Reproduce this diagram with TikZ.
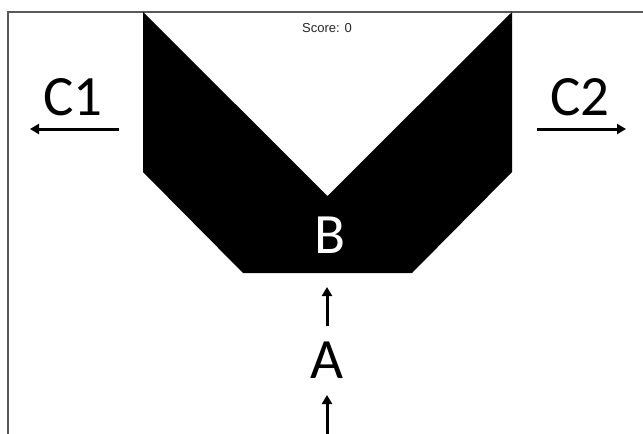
\documentclass[tikz,border=0pt]{standalone}
\usepackage{fontspec}
\setmainfont{Carlito}
\newfontfamily\scorefont{Liberation Sans}
\usetikzlibrary{arrows.meta}
\begin{document}
\begin{tikzpicture}[x=1pt,y=-1pt,
  frameline/.style={draw=black!65, line width=1.5pt},
  bigtext/.style={font=\fontsize{57}{60}\selectfont, inner sep=0pt, anchor=base},
  arr/.style={line width=3pt, -{Triangle[width=10pt,length=9pt]}}]
\useasboundingbox (0,0) rectangle (643,434);
% frame
\draw[frameline] (8,434) -- (8,12) -- (643,12);
% black shape
\fill[black] (143,12) -- (327.5,196) -- (512,12) -- (512,172) -- (412,273)
  -- (243,273) -- (143,172) -- cycle;
% texts
\node[inner sep=0pt, anchor=base, text=black!85, font=\scorefont\fontsize{13}{15}\selectfont] (score) at (327,32) {Score: 0};
\node[bigtext] (C1) at (73,115) {C1};
\node[bigtext] (C2) at (580,115) {C2};
\node[bigtext, text=white] (B) at (330,253) {B};
\node[bigtext] (A) at (327,378) {A};
% arrows
\coordinate (c1s) at (119,129);
\coordinate (c1e) at (30,129);
\coordinate (c2s) at (537,129);
\coordinate (c2e) at (626,129);
\coordinate (abs) at (327,326);
\coordinate (abe) at (327,287);
\coordinate (ins) at (327,434);
\coordinate (ine) at (327,395);
\draw[arr] (c1s) -- (c1e);
\draw[arr] (c2s) -- (c2e);
\draw[arr] (abs) -- (abe);
\draw[arr] (ins) -- (ine);
\end{tikzpicture}
\end{document}
